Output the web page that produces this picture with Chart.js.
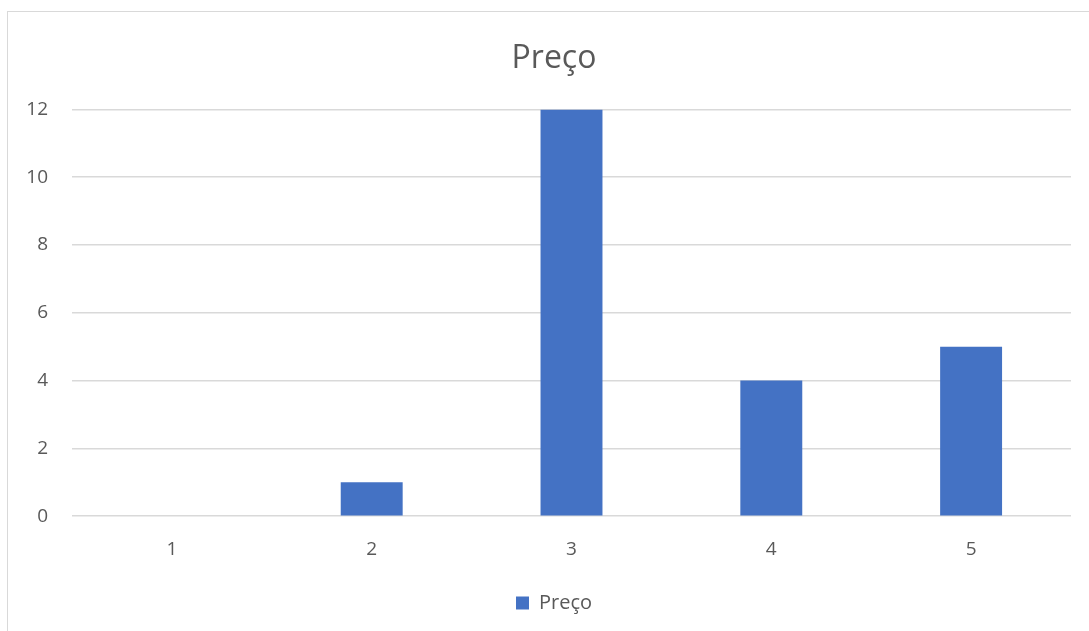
<!DOCTYPE html>
<html>
<head>
<meta charset="utf-8">
<script src="https://cdn.jsdelivr.net/npm/chart.js@4"></script>
<style>
  html, body { margin: 0; padding: 0; background: #fff; overflow: hidden; }
  #frame { position: absolute; left: 7px; top: 11px; width: 1120px; height: 660px; border: 1px solid #d9d9d9; }
  #wrap { position: absolute; left: 0; top: 0; width: 1108px; height: 631px; }
</style>
</head>
<body>
<div id="frame"></div>
<div id="wrap"><canvas id="chart"></canvas></div>
<script>
// ── DATA ─────────────────────────────────────────────────────────────
const categories = ['1', '2', '3', '4', '5'];
const precoValues = [0, 1, 12, 4, 5];
const seriesLabel = 'Preço';

const TEXT = '#595959';
const GRID = '#d9d9d9';
const BAR = '#4472c4';
const FONT = '"Open Sans", "Noto Sans", sans-serif';

new Chart(document.getElementById('chart'), {
  type: 'bar',
  data: {
    labels: categories,
    datasets: [{ label: seriesLabel, data: precoValues, backgroundColor: BAR, borderWidth: 0, barPercentage: 0.31, categoryPercentage: 1 }]
  },
  options: {
    responsive: true, maintainAspectRatio: false, animation: false,
    layout: { padding: { left: 0, right: 0, top: 0, bottom: 8 } },
    plugins: {
      title: { display: true, text: 'Preço', color: TEXT, font: { family: FONT, size: 32, weight: 'normal' }, padding: { top: 40, bottom: 31 } },
      legend: { display: true, position: 'bottom', labels: { color: TEXT, font: { family: FONT, size: 20 }, boxWidth: 13, boxHeight: 13, padding: 10 } },
      tooltip: { enabled: false }
    },
    scales: {
      x: {
        grid: { display: false, drawTicks: false },
        border: { display: false },
        ticks: { color: TEXT, font: { family: FONT, size: 19 }, padding: 22 }
      },
      y: {
        min: 0, max: 12,
        grid: { color: GRID, lineWidth: 1.5, drawTicks: false },
        border: { display: false },
        ticks: { stepSize: 2, color: TEXT, font: { family: FONT, size: 19 }, padding: 24 },
        afterFit: s => { s.width = 72; }
      },
      // empty right gutter so title and legend centre on the frame
      gutter: {
        type: 'linear', position: 'right',
        grid: { display: false, drawTicks: false },
        border: { display: false },
        ticks: { display: false },
        afterFit: s => { s.width = 37; }
      }
    }
  }
});
</script>
</body>
</html>
